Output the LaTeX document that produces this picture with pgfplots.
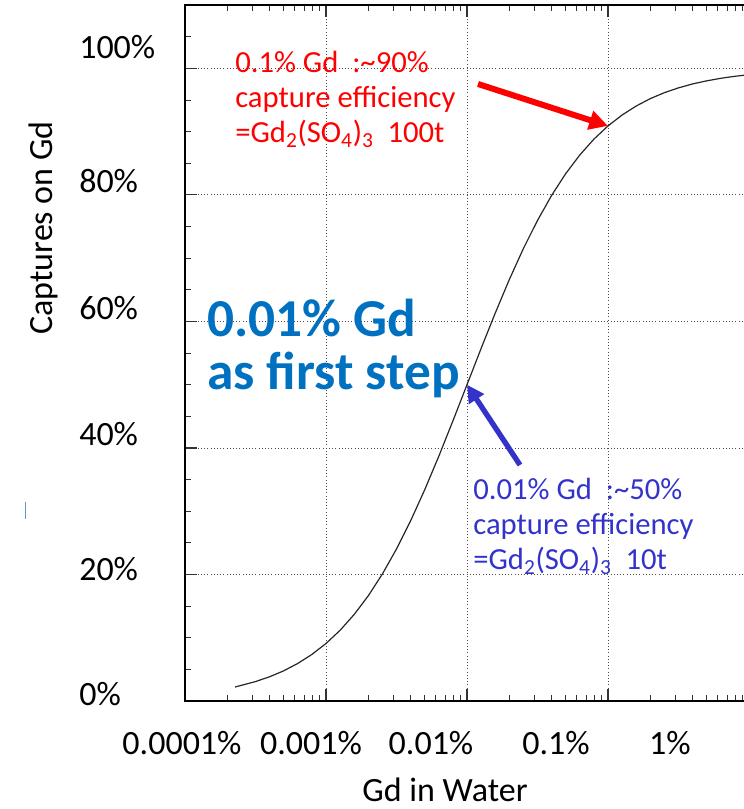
\documentclass[border=0pt]{standalone}
\usepackage{pgfplots}
\pgfplotsset{compat=1.18}
\usepackage{fontspec}
\setmainfont{Carlito}
\usetikzlibrary{arrows.meta}

\definecolor{annred}{RGB}{255,0,0}
\definecolor{annblue}{RGB}{51,51,204}
\definecolor{stepblue}{RGB}{0,112,192}
\definecolor{cursorblue}{RGB}{91,155,213}

\newcommand{\ticklab}{\fontsize{25.5}{30}\selectfont}
\newcommand{\annfont}{\fontsize{23}{27}\selectfont}
\newcommand{\bigfont}{\fontsize{40}{46}\selectfont\bfseries}

\begin{document}
\begin{tikzpicture}
\begin{axis}[
  at={(0,0)}, anchor=south west,
  scale only axis,
  width=422.25pt, height=521.85pt,
  xmode=log, log basis x=10,
  xmin=1e-4, xmax=0.9838,
  ymin=0, ymax=110,
  xtick={1e-4,1e-3,1e-2,1e-1,1},
  minor xtick={2e-4,3e-4,4e-4,5e-4,6e-4,7e-4,8e-4,9e-4,
               2e-3,3e-3,4e-3,5e-3,6e-3,7e-3,8e-3,9e-3,
               2e-2,3e-2,4e-2,5e-2,6e-2,7e-2,8e-2,9e-2,
               0.2,0.3,0.4,0.5,0.6,0.7,0.8,0.9},
  ytick={0,20,40,60,80,100},
  minor ytick={5,10,15,25,30,35,45,50,55,65,70,75,85,90,95,105},
  xticklabels={}, yticklabels={},
  xtick pos=both, ytick pos=left,
  tick align=inside,
  major tick length=9pt, minor tick length=4.5pt,
  tick style={black!80, line width=0.8pt},
  axis line style={black, line width=1.4pt},
  grid=major,
  major grid style={dotted, line width=0.7pt, black!70},
]
% fraction of neutron captures on Gd versus Gd concentration (in %)
\addplot[black!85, line width=0.9pt] coordinates {
  (2.265e-4,2.21) (3.162e-4,3.07) (3.981e-4,3.83) (5.012e-4,4.77)
  (6.310e-4,5.94) (7.943e-4,7.36) (1e-3,9.09) (1.259e-3,11.18)
  (1.585e-3,13.68) (1.995e-3,16.63) (2.512e-3,20.08) (3.162e-3,24.03)
  (3.981e-3,28.47) (5.012e-3,33.39) (6.310e-3,38.69) (7.943e-3,44.27)
  (1e-2,50.00) (1.259e-2,55.73) (1.585e-2,61.31) (1.995e-2,66.61)
  (2.512e-2,71.53) (3.162e-2,75.97) (3.981e-2,79.92) (5.012e-2,83.37)
  (6.310e-2,86.32) (7.943e-2,88.82) (0.1,90.91) (0.1259,92.64)
  (0.1585,94.06) (0.1995,95.23) (0.2512,96.17) (0.3162,96.93)
  (0.3981,97.55) (0.5012,98.04) (0.6310,98.44) (0.7943,98.76)
  (1,99.01) (1.259,99.21)
};
\coordinate (redtip) at (axis cs:0.1,90.91);
\coordinate (bluetip) at (axis cs:0.01,50);
\end{axis}

% labels and annotations, positioned on a 743 x 809 grid (y downwards)
\begin{scope}[shift={(-138.75pt,525.75pt)}, x=0.75pt, y=-0.75pt]
  % y tick labels
  \foreach \lab/\yb in {100/59, 80/193, 60/320, 40/446, 20/581, 0/706}
    \node[anchor=base west, inner sep=0pt] at (79,\yb) {\ticklab \lab\%};
  % x tick labels
  \node[anchor=base, inner sep=0pt] at (182,754) {\ticklab 0.0001\%};
  \node[anchor=base, inner sep=0pt] at (311,754) {\ticklab 0.001\%};
  \node[anchor=base, inner sep=0pt] at (431,754) {\ticklab 0.01\%};
  \node[anchor=base, inner sep=0pt] at (556,754) {\ticklab 0.1\%};
  \node[anchor=base, inner sep=0pt] at (670,754) {\ticklab 1\%};
  % axis titles
  \node[anchor=base, inner sep=0pt] at (445,801) {\ticklab Gd in Water};
  \node[anchor=base, rotate=90, inner sep=0pt] at (53,228) {\ticklab Captures on Gd};

  % 0.1% annotation
  \node[anchor=base west, inner sep=0pt, text=annred] at (235,73) {\annfont 0.1\% Gd\ \ :\textasciitilde 90\%};
  \node[anchor=base west, inner sep=0pt, text=annred] at (235,108) {\annfont capture efficiency};
  \node[anchor=base west, inner sep=0pt, text=annred] at (235,143) {\annfont =Gd\textsubscript{2}(SO\textsubscript{4})\textsubscript{3}\ \ 100t};
  \draw[annred, line width=4.5pt, -{Triangle[length=14pt,width=14pt]}] (478,84) -- (redtip);

  % 0.01% annotation
  \node[anchor=base west, inner sep=0pt, text=annblue] at (473,500) {\annfont 0.01\% Gd\ \ :\textasciitilde 50\%};
  \node[anchor=base west, inner sep=0pt, text=annblue] at (473,535) {\annfont capture efficiency};
  \node[anchor=base west, inner sep=0pt, text=annblue] at (473,570) {\annfont =Gd\textsubscript{2}(SO\textsubscript{4})\textsubscript{3}\ \ 10t};
  \draw[annblue, line width=4pt, -{Triangle[length=13pt,width=13pt]}] (520,465) -- (bluetip);

  % headline
  \node[anchor=base west, inner sep=0pt, text=stepblue] at (207,337) {\bigfont 0.01\% Gd};
  \node[anchor=base west, inner sep=0pt, text=stepblue] at (207,390) {\bigfont as first step};

  \draw[cursorblue, line width=0.75pt] (26,502) -- (26,519);

  \pgfresetboundingbox
  \path[use as bounding box] (0,0) rectangle (743,809);
\end{scope}
\end{tikzpicture}
\end{document}
